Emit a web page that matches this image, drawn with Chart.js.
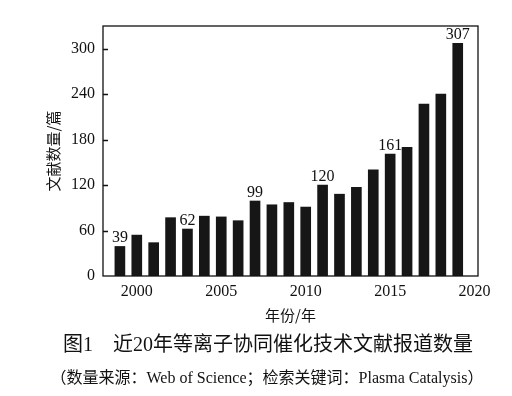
<!DOCTYPE html>
<html>
<head>
<meta charset="utf-8">
<script src="https://cdn.jsdelivr.net/npm/chart.js@4.4.0/dist/chart.umd.min.js"></script>
<style>
body { margin: 0; background: #fff; }
#wrap { position: relative; width: 512px; height: 396px; }
#c { position: absolute; left: 0; top: 0; }
.cap { position: absolute; white-space: nowrap; transform: translateX(-50%); font-family: "Noto Sans CJK SC", sans-serif; color: #111; }
.lat { font-family: "Liberation Serif", serif; }
</style>
</head>
<body>
<div id="wrap">
  <canvas id="c" width="512" height="330"></canvas>
  <div class="cap" style="left:268px; top:330px; font-size:20px; line-height:26px;">图<span class="lat">1</span>&emsp;近<span class="lat">20</span>年等离子协同催化技术文献报道数量</div>
  <div class="cap" style="left:267px; top:366px; font-size:16px; line-height:20px;">（数量来源：<span class="lat">Web of Science</span>；检索关键词：<span class="lat">Plasma Catalysis</span>）</div>
</div>
<script>
// Data
const years = [1999, 2000, 2001, 2002, 2003, 2004, 2005, 2006, 2007, 2008, 2009,
               2010, 2011, 2012, 2013, 2014, 2015, 2016, 2017, 2018, 2019];
const counts = [39, 54, 44, 77, 62, 79, 78, 73, 99, 94, 97,
                91, 120, 108, 117, 140, 161, 170, 227, 240, 307];
const labeledYears = [1999, 2003, 2007, 2011, 2015, 2019];
const xTicks = [2000, 2005, 2010, 2015, 2020];
const yTicks = [0, 60, 120, 180, 240, 300];

const ink = '#111';
const serif = 'Liberation Serif';
const cjk = 'Noto Sans CJK SC';

// value labels above some bars
const valueLabels = {
    id: 'valueLabels',
    afterDatasetsDraw(chart) {
        const ctx = chart.ctx;
        const meta = chart.getDatasetMeta(0);
        ctx.save();
        ctx.font = '16px "' + serif + '"';
        ctx.fillStyle = ink;
        ctx.textAlign = 'center';
        ctx.textBaseline = 'alphabetic';
        meta.data.forEach((bar, i) => {
            if (labeledYears.includes(years[i])) {
                ctx.fillText(String(counts[i]), bar.x, bar.y - 4);
            }
        });
        ctx.restore();
    }
};

// box around the plot and inward ticks on the y axis
const frame = {
    id: 'frame',
    afterDraw(chart) {
        const ctx = chart.ctx;
        const a = chart.chartArea;
        const y = chart.scales.y;
        ctx.save();
        ctx.strokeStyle = ink;
        ctx.lineWidth = 1.3;
        ctx.strokeRect(a.left, a.top, a.right - a.left, a.bottom - a.top);
        ctx.beginPath();
        yTicks.forEach(v => {
            if (v === 0) return;
            const py = Math.round(y.getPixelForValue(v)) + 0.5;
            ctx.moveTo(a.left, py);
            ctx.lineTo(a.left + 5, py);
        });
        ctx.stroke();
        ctx.restore();
    }
};

new Chart(document.getElementById('c'), {
    type: 'bar',
    data: {
        datasets: [{
            data: years.map((yr, i) => ({ x: yr, y: counts[i] })),
            backgroundColor: '#161616',
            barThickness: 10
        }]
    },
    options: {
        responsive: false,
        animation: false,
        layout: { padding: { left: 38, top: 26, right: 34, bottom: 0 } },
        plugins: {
            legend: { display: false },
            tooltip: { enabled: false }
        },
        scales: {
            x: {
                type: 'linear',
                min: 1998,
                max: 2020.2,
                offset: false,
                grid: { display: false, drawTicks: false },
                border: { display: false },
                afterBuildTicks: s => { s.ticks = xTicks.map(v => ({ value: v })); },
                afterFit: s => { s.height = 54; },
                ticks: {
                    color: ink,
                    padding: 6,
                    maxRotation: 0,
                    font: { family: serif, size: 16 },
                    callback: v => String(v)
                },
                title: {
                    display: true,
                    text: '年份/年',
                    color: ink,
                    font: { family: cjk, size: 15 },
                    padding: { top: 0, bottom: 6 }
                }
            },
            y: {
                min: 0,
                max: 330,
                grid: { display: false, drawTicks: false },
                border: { display: false },
                afterBuildTicks: s => { s.ticks = yTicks.map(v => ({ value: v })); },
                afterFit: s => { s.width = 65; },
                ticks: {
                    color: ink,
                    padding: 8,
                    font: { family: serif, size: 16 }
                },
                title: {
                    display: true,
                    text: '文献数量/篇',
                    color: ink,
                    font: { family: cjk, size: 15 },
                    padding: { top: 6, bottom: 0 }
                }
            }
        }
    },
    plugins: [valueLabels, frame]
});
</script>
</body>
</html>
